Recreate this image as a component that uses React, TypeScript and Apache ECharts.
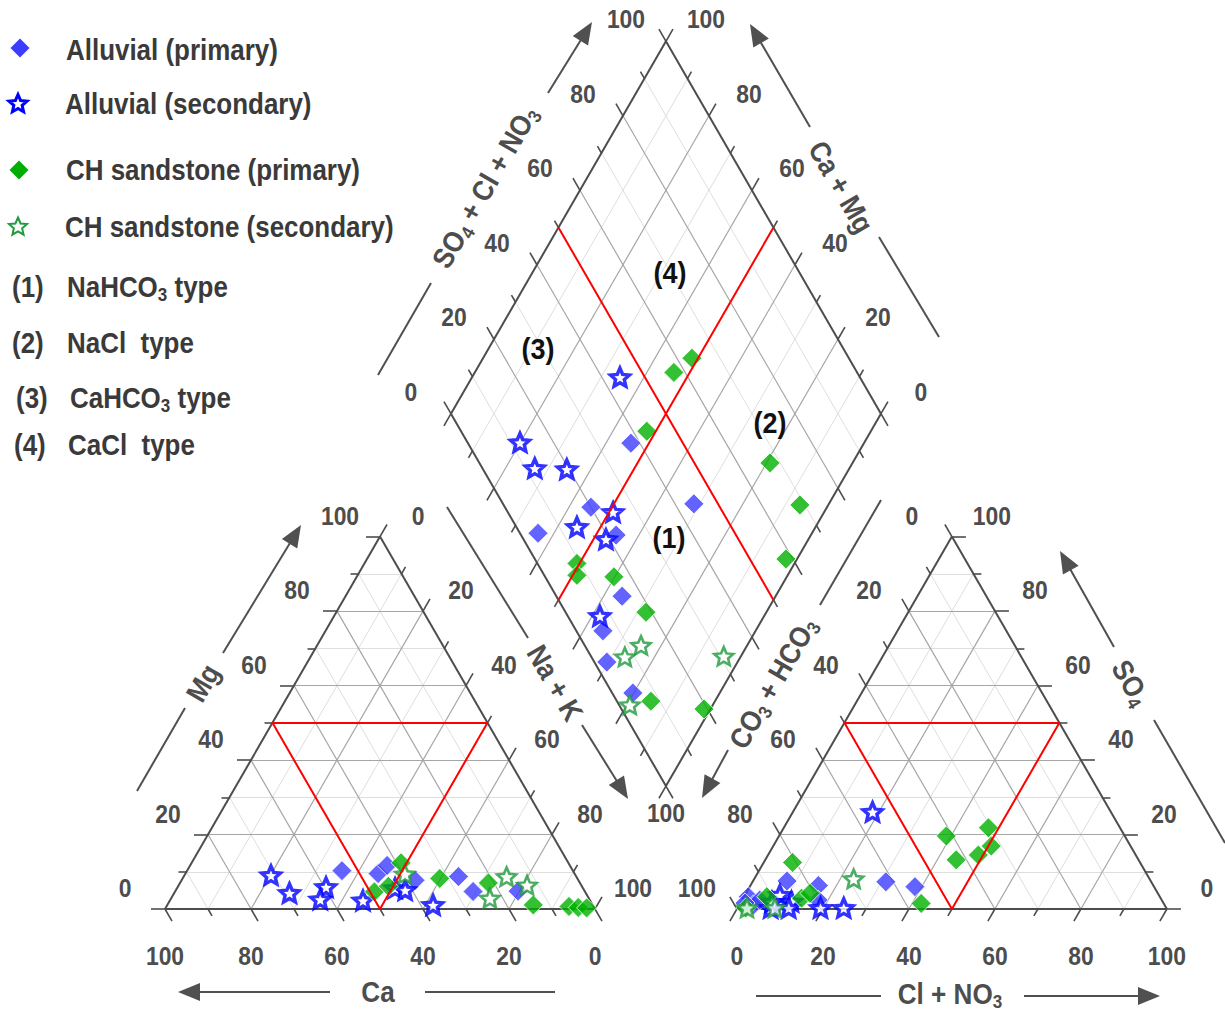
import React, { useEffect, useRef } from 'react';
import * as echarts from 'echarts';

// ---------- layout constants ----------
const W = 1225;
const H = 1012;
const PX = 4.3; // pixels per percent unit
const X0 = 165; // pixel x of left triangle's left vertex
const Y0 = 909; // pixel y of triangle bases
const GAP = 33; // gap between triangles (percent units)
const R3 = Math.sqrt(3) / 2;
const FONT = "'Liberation Sans', Arial, sans-serif";
const TXT = '#4d4d4d';

// ---------- data ----------
// cation triangle: [Ca %, Mg %]
const CAT_ALLUVIAL_PRI = [[53.7, 10.3], [45.7, 9.5], [42.5, 11.7], [38.0, 7.7], [27.4, 8.7], [26.0, 4.7], [15.5, 4.8]];
const CAT_ALLUVIAL_SEC = [[70.8, 9.1], [68.9, 4.3], [59.6, 5.9], [62.6, 2.6], [52.8, 2.3], [43.7, 5.6], [41.6, 5.1], [37.1, 1.1]];
const CAT_CH_PRI = [[49.0, 4.6], [45.0, 6.1], [38.9, 12.4], [32.0, 8.2], [21.3, 7.0], [13.8, 1.1], [5.7, 0.7], [3.7, 0.4], [1.8, 0.3]];
const CAT_CH_SEC = [[39.5, 9.4], [23.0, 2.9], [16.2, 8.7], [12.6, 6.4]];

// anion triangle: [Cl + NO3 %, SO4 %]
const AN_ALLUVIAL_PRI = [[31.0, 7.3], [38.4, 6.0], [7.9, 7.5], [15.8, 6.3], [17.7, 2.4], [1.0, 3.3], [3.3, 1.1], [4.1, 2.4], [1.1, 1.6]];
const AN_ALLUVIAL_SEC = [[18.5, 26.1], [8.1, 3.8], [11.7, 2.0], [7.7, 0.3], [11.9, 0.3], [19.3, 0.3], [24.7, 0.3], [7.2, 1.9]];
const AN_CH_PRI = [[38.9, 19.6], [47.6, 21.8], [50.7, 16.9], [48.9, 14.5], [44.4, 13.2], [6.7, 12.5], [42.1, 1.5], [5.3, 3.3], [13.6, 2.9], [14.9, 4.2], [1.9, 0.3]];
const AN_CH_SEC = [[23.1, 8.1], [2.2, 0.3], [8.7, 0.3]];

// diamond: [SO4 + Cl + NO3 %, Ca + Mg %]
const DIA_ALLUVIAL_PRI = [[37.9, 54.2], [44.4, 31.4], [20.0, 54.9], [4.2, 63.7], [22.1, 45.3], [15.3, 35.7], [6.2, 35.5], [2.9, 30.4], [4.8, 20.2]];
const DIA_ALLUVIAL_SEC = [[44.2, 65.6], [12.2, 80.1], [12.2, 73.2], [19.5, 65.6], [24.5, 49.1], [14.1, 55.5], [19.2, 47.1], [7.5, 38.2]];
const DIA_CH_PRI = [[57.4, 53.7], [63.5, 51.4], [43.2, 52.1], [67.6, 19.2], [68.9, 6.6], [58.4, 2.6], [9.2, 50.6], [7.6, 49.0], [16.0, 40.2], [18.7, 28.0], [7.9, 14.9], [19.2, 1.5]];
const DIA_CH_SEC = [[13.1, 24.7], [7.8, 26.9], [30.9, 4.0], [2.5, 19.3]];

const TICK_VALUES = [0, 10, 20, 30, 40, 50, 60, 70, 80, 90, 100];
const LABEL_VALUES = [0, 20, 40, 60, 80, 100];

const LEGEND_SERIES = ['Alluvial (primary)', 'Alluvial (secondary)', 'CH sandstone (primary)', 'CH sandstone (secondary)'];
const LEGEND_TYPES = [
  ['(1)', '{a|NaHCO}{s|3}{a| type}'],
  ['(2)', '{a|NaCl  type}'],
  ['(3)', '{a|CaHCO}{s|3}{a| type}'],
  ['(4)', '{a|CaCl  type}'],
];

// ---------- projections ----------
const cat = (ca: number, mg: number) => [100 - ca - mg / 2, mg * R3];
const an = (cl: number, so4: number) => [100 + GAP + cl + so4 / 2, so4 * R3];
const BX = 100 + GAP / 2;
const BY = GAP * R3;
const dia = (p: number, c: number) => [BX + (p - c) / 2, BY + (p + c) * R3];

const COLORS = {
  bluePri: '#3c3cff',
  blueSec: '#0000ff',
  greenPri: '#00b000',
  greenSec: '#1f9a3c',
};

const STAR_PATH = (() => {
  const pts: string[] = [];
  for (let i = 0; i < 10; i++) {
    const a = -Math.PI / 2 + (i * Math.PI) / 5;
    const r = i % 2 === 0 ? 10 : 4.6;
    pts.push(`${(r * Math.cos(a)).toFixed(3)} ${(r * Math.sin(a)).toFixed(3)}`);
  }
  return 'path://M' + pts.join(' L ') + ' Z';
})();

function starPoints(cx: number, cy: number, R: number) {
  const pts: number[][] = [];
  for (let i = 0; i < 10; i++) {
    const a = -Math.PI / 2 + (i * Math.PI) / 5;
    const r = i % 2 === 0 ? R : R * 0.46;
    pts.push([cx + r * Math.cos(a), cy + r * Math.sin(a)]);
  }
  return pts;
}

// tick label anchors (data space) with pixel offsets
function tickLabels() {
  const out: { p: number[]; text: string; off: number[] }[] = [];
  const add = (p: number[], text: string, off: number[]) => out.push({ p, text, off });
  for (const k of LABEL_VALUES) {
    add(cat(100 - k, k), String(k), [-40, -21]);
    add(cat(0, 100 - k), String(k), [38, -21]);
    add(cat(k, 0), String(k), [0, 47]);
    add(an(0, 100 - k), String(k), [-40, -21]);
    add(an(100 - k, k), String(k), [40, -21]);
    add(an(k, 0), String(k), [0, 47]);
    add(dia(k, 100), String(k), [-40, -22]);
    add(dia(100, k), String(k), [40, -22]);
  }
  add(dia(0, 0), '100', [0, 27]);
  return out;
}

function buildOption() {
  const light: number[][][] = [];
  const dark: number[][][] = [];
  for (let k = 10; k <= 90; k += 10) {
    const arr = k % 20 === 0 ? dark : light;
    arr.push([cat(100 - k, k), cat(0, k)]);
    arr.push([cat(k, 0), cat(k, 100 - k)]);
    arr.push([cat(100 - k, 0), cat(0, 100 - k)]);
    arr.push([an(0, k), an(100 - k, k)]);
    arr.push([an(k, 0), an(k, 100 - k)]);
    arr.push([an(100 - k, 0), an(0, 100 - k)]);
    arr.push([dia(k, 0), dia(k, 100)]);
    arr.push([dia(0, k), dia(100, k)]);
  }

  const frame: number[][][] = [
    [cat(100, 0), cat(0, 0)], [cat(100, 0), cat(0, 100)], [cat(0, 0), cat(0, 100)],
    [an(0, 0), an(100, 0)], [an(0, 0), an(0, 100)], [an(100, 0), an(0, 100)],
    [dia(0, 0), dia(100, 0)], [dia(100, 0), dia(100, 100)], [dia(100, 100), dia(0, 100)], [dia(0, 100), dia(0, 0)],
  ];

  const red: number[][][] = [
    [cat(50, 50), cat(0, 50)], [cat(50, 50), cat(50, 0)], [cat(0, 50), cat(50, 0)],
    [an(0, 50), an(50, 50)], [an(0, 50), an(50, 0)], [an(50, 50), an(50, 0)],
    [dia(50, 0), dia(50, 100)], [dia(0, 50), dia(100, 50)],
  ];

  const ticks: number[][][] = [];
  const addTick = (p: number[], d: number[], k: number) => {
    const len = (k % 20 === 0 ? 14 : 8) / PX;
    ticks.push([p, [p[0] + d[0] * len, p[1] + d[1] * len]]);
  };
  for (const k of TICK_VALUES) {
    addTick(cat(100 - k, k), [-1, 0], k);
    addTick(cat(0, 100 - k), [0.5, R3], k);
    addTick(cat(k, 0), [0.5, -R3], k);
    addTick(an(100 - k, k), [1, 0], k);
    addTick(an(0, 100 - k), [-0.5, R3], k);
    addTick(an(k, 0), [-0.5, -R3], k);
    addTick(dia(k, 100), [-0.5, R3], k);
    addTick(dia(100, k), [0.5, R3], k);
    addTick(dia(0, k), [-0.5, -R3], k);
    addTick(dia(k, 0), [0.5, -R3], k);
  }

  const linesSeries = (segs: number[][][], color: string, width: number, z: number) => ({
    type: 'lines',
    coordinateSystem: 'cartesian2d',
    polyline: false,
    silent: true,
    z,
    lineStyle: { color, width, opacity: 1 },
    data: segs.map((s) => ({ coords: s })),
  });

  const pts = (c: number[][], a: number[][], d: number[][]) => [
    ...c.map(([x, y]) => cat(x, y)),
    ...a.map(([x, y]) => an(x, y)),
    ...d.map(([x, y]) => dia(x, y)),
  ];

  const scatter = (name: string, data: number[][], symbol: string, size: any, itemStyle: any, z: number) => ({
    type: 'scatter', name, data, symbol, symbolSize: size, itemStyle, z, silent: true,
    emphasis: { disabled: true },
  });

  return {
    animation: false,
    backgroundColor: '#ffffff',
    grid: { left: 0, right: 0, top: 0, bottom: 0, containLabel: false },
    xAxis: { type: 'value', min: -X0 / PX, max: (W - X0) / PX, show: false },
    yAxis: { type: 'value', min: -(H - Y0) / PX, max: Y0 / PX, show: false },
    series: [
      linesSeries(light, '#dedede', 1, 1),
      linesSeries(dark, '#a6a6a6', 1.2, 2),
      linesSeries(frame, '#4d4d4d', 2, 3),
      linesSeries(ticks, '#4d4d4d', 1.6, 3),
      scatter(LEGEND_SERIES[0], pts(CAT_ALLUVIAL_PRI, AN_ALLUVIAL_PRI, DIA_ALLUVIAL_PRI), 'diamond', [20, 20],
        { color: COLORS.bluePri, borderColor: '#fff', borderWidth: 1 }, 4),
      scatter(LEGEND_SERIES[1], pts(CAT_ALLUVIAL_SEC, AN_ALLUVIAL_SEC, DIA_ALLUVIAL_SEC), STAR_PATH, [19, 18],
        { color: '#fff', borderColor: COLORS.blueSec, borderWidth: 3.4 }, 5),
      scatter(LEGEND_SERIES[2], pts(CAT_CH_PRI, AN_CH_PRI, DIA_CH_PRI), 'diamond', [20, 20],
        { color: COLORS.greenPri, borderColor: '#fff', borderWidth: 1 }, 6),
      scatter(LEGEND_SERIES[3], pts(CAT_CH_SEC, AN_CH_SEC, DIA_CH_SEC), STAR_PATH, [19, 18],
        { color: '#fff', borderColor: COLORS.greenSec, borderWidth: 2.6 }, 7),
      linesSeries(red, '#ff0000', 2, 8),
    ],
  };
}

function buildGraphics(toPx: (p: number[]) => number[]) {
  const g: any[] = [];
  const GREY = '#505050';

  // tick labels, anchored via the chart's own axes
  for (const l of tickLabels()) {
    const [x, y] = toPx(l.p);
    g.push({
      type: 'text', x: x + l.off[0], y: y + l.off[1], scaleX: 0.88, z: 100,
      style: { text: l.text, fontFamily: FONT, fontSize: 26, fontWeight: 'bold', fill: TXT, align: 'center', verticalAlign: 'middle' },
    });
  }

  const arrow = (x1: number, y1: number, x2: number, y2: number) => {
    const dx = x2 - x1, dy = y2 - y1;
    const len = Math.hypot(dx, dy);
    const ux = dx / len, uy = dy / len;
    const hl = 22, hw = 9;
    const bx = x2 - ux * hl, by = y2 - uy * hl;
    g.push({ type: 'line', shape: { x1, y1, x2: bx + ux * 2, y2: by + uy * 2 }, style: { stroke: GREY, lineWidth: 2 } });
    g.push({ type: 'polygon', shape: { points: [[x2, y2], [bx - uy * hw, by + ux * hw], [bx + uy * hw, by - ux * hw]] }, style: { fill: GREY } });
  };
  const seg = (x1: number, y1: number, x2: number, y2: number) =>
    g.push({ type: 'line', shape: { x1, y1, x2, y2 }, style: { stroke: GREY, lineWidth: 2 } });
  const rich = {
    a: { fontFamily: FONT, fontSize: 29, fontWeight: 'bold', fill: TXT },
    s: { fontFamily: FONT, fontSize: 19, fontWeight: 'bold', fill: TXT, padding: [16, 0, 0, 0] },
  };
  const title = (x: number, y: number, deg: number, text: string) =>
    g.push({
      type: 'text', x, y, rotation: (deg * Math.PI) / 180, scaleX: 0.9,
      style: { text, rich, fontFamily: FONT, fontSize: 29, fontWeight: 'bold', fill: TXT, align: 'center', verticalAlign: 'middle' },
    });

  // Mg
  seg(137, 791, 185, 708); title(203, 683, 60, '{a|Mg}'); arrow(223, 653, 301, 525);
  // Ca
  arrow(330, 992, 178, 992); title(378, 992, 0, '{a|Ca}'); seg(425, 992, 555, 992);
  // Cl + NO3
  seg(756, 996, 881, 996); title(950, 994, 0, '{a|Cl + NO}{s|3}'); arrow(1024, 996, 1160, 996);
  // SO4 (anion)
  arrow(1114, 647, 1060, 551); title(1131, 683, -60, '{a|SO}{s|4}'); seg(1154, 720, 1225, 843);
  // Na + K
  seg(447, 507, 528, 638); title(555, 683, -60, '{a|Na + K}'); arrow(582, 725, 628, 799);
  // CO3 + HCO3
  seg(881, 500, 820, 605); title(773, 683, 60, '{a|CO}{s|3}{a| + HCO}{s|3}'); arrow(728, 750, 702, 798);
  // SO4 + Cl + NO3
  seg(378, 375, 431, 283); title(485, 187, 60, '{a|SO}{s|4}{a| + Cl + NO}{s|3}'); arrow(548, 93, 592, 22);
  // Ca + Mg
  arrow(810, 127, 750, 24); title(841, 187, -60, '{a|Ca + Mg}'); seg(879, 237, 939, 337);

  // region labels
  const region = (x: number, y: number, t: string) =>
    g.push({ type: 'text', x, y, scaleX: 0.9, z: 100, style: { text: t, fontFamily: FONT, fontSize: 30, fontWeight: 'bold', fill: '#111', align: 'center', verticalAlign: 'middle' } });
  region(670, 272, '(4)'); region(538, 348, '(3)'); region(770, 422, '(2)'); region(669, 537, '(1)');

  // legend
  const LEG = '#3a3a3a';
  const legText = (x: number, y: number, text: string) =>
    g.push({
      type: 'text', x, y, scaleX: 0.895,
      style: {
        text,
        rich: {
          a: { fontFamily: FONT, fontSize: 29, fontWeight: 'bold', fill: LEG },
          s: { fontFamily: FONT, fontSize: 19, fontWeight: 'bold', fill: LEG, padding: [16, 0, 0, 0] },
        },
        fontFamily: FONT, fontSize: 29, fontWeight: 'bold', fill: LEG, align: 'left', verticalAlign: 'middle',
      },
    });
  const diamondPoly = (cx: number, cy: number, r: number, fill: string) =>
    g.push({ type: 'polygon', shape: { points: [[cx, cy - r], [cx + r, cy], [cx, cy + r], [cx - r, cy]] }, style: { fill } });
  const starPoly = (cx: number, cy: number, r: number, stroke: string, lw: number) =>
    g.push({ type: 'polygon', shape: { points: starPoints(cx, cy, r) }, style: { fill: '#fff', stroke, lineWidth: lw } });

  diamondPoly(20, 48, 9.5, COLORS.bluePri);
  legText(66, 50, `{a|${LEGEND_SERIES[0]}}`);
  starPoly(18, 104, 9.5, COLORS.blueSec, 3);
  legText(65, 104, `{a|${LEGEND_SERIES[1]}}`);
  diamondPoly(19, 170, 9.5, COLORS.greenPri);
  legText(66, 170, `{a|${LEGEND_SERIES[2]}}`);
  starPoly(18, 227, 9.5, COLORS.greenSec, 2);
  legText(65, 227, `{a|${LEGEND_SERIES[3]}}`);
  const typeY = [287, 343, 398, 445];
  const numX = [12, 12, 16, 14];
  const nameX = [67, 67, 70, 68];
  LEGEND_TYPES.forEach(([n, t], i) => {
    legText(numX[i], typeY[i], `{a|${n}}`);
    legText(nameX[i], typeY[i], t);
  });
  return g;
}

export default function App() {
  const ref = useRef<HTMLDivElement>(null);
  useEffect(() => {
    const chart = echarts.init(ref.current!, null, { renderer: 'svg' });
    chart.setOption(buildOption() as any);
    const toPx = (p: number[]) => chart.convertToPixel({ gridIndex: 0 }, p) as number[];
    chart.setOption({ graphic: buildGraphics(toPx) } as any);
    return () => chart.dispose();
  }, []);
  return (
    <div
      ref={ref}
      style={{ position: 'fixed', left: 0, top: 0, width: W, height: H, background: '#fff' }}
    />
  );
}
